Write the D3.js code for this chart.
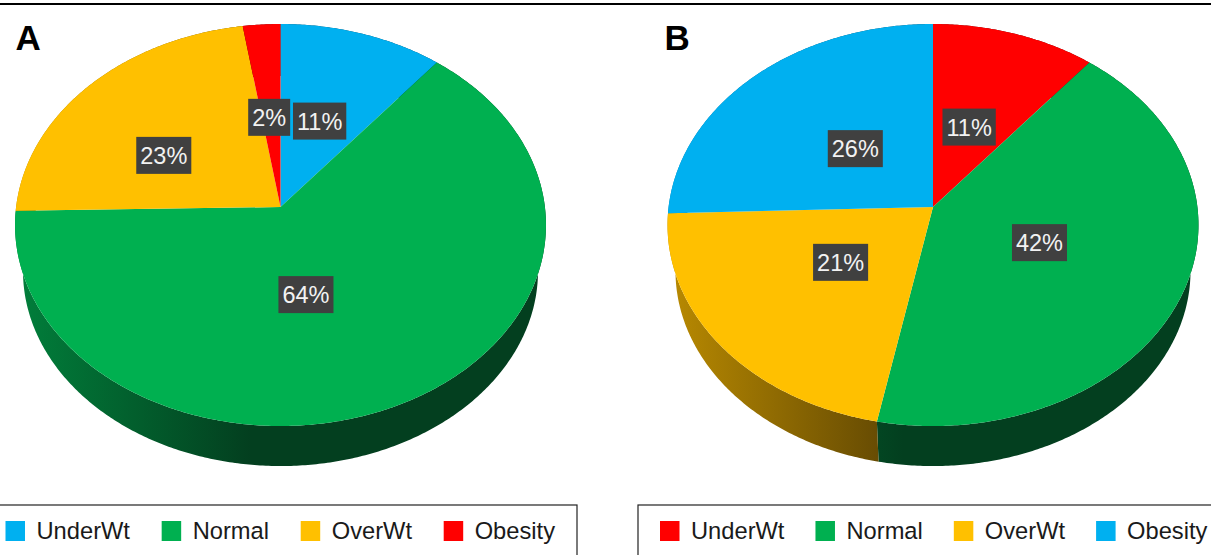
<!DOCTYPE html>
<html>
<head>
<meta charset="utf-8">
<script src="https://cdn.jsdelivr.net/npm/d3@7"></script>
<style>
  html, body { margin: 0; padding: 0; background: #fff; overflow: hidden; }
  svg { display: block; font-family: "Liberation Sans", Arial, sans-serif; }
</style>
</head>
<body>
<svg id="chart" width="1211" height="555"></svg>
<script>
// chart values
const categories = ['UnderWt', 'Normal', 'OverWt', 'Obesity'];
const valuesA = [10.9, 63.8, 22.81, 2.49];
const valuesB = [10.9, 42.2, 21.4, 25.5];
const colorsA = ['#00b0f0', '#00b050', '#ffc000', '#ff0000'];
const colorsB = ['#ff0000', '#00b050', '#ffc000', '#00b0f0'];

// label nudges away from the default slice position, [dx, dy]
const labelShiftA = [[-1, -1], [-31, 0], [-24, 7], [-2, 0]];
const labelShiftB = [[-4, 5], [-8, -5], [5, -7], [9, 5]];

// pie geometry
const persp = -0.0896;  // perspective of the tilted disc
const radiusX = 264.4, radiusY = 199.4;
const apexY = 207;
const wallScale = 0.97, wallApexY = 253.6;
const labelRadius = 0.47;

const svg = d3.select('#chart');
const defs = svg.append('defs');
const percent = d3.format('.0f');

// rule along the top
svg.append('rect')
  .attr('x', 0)
  .attr('y', 3)
  .attr('width', 1211)
  .attr('height', 2)
  .attr('fill', '#000');

// unit disc -> screen, angle clockwise from 12 o'clock
function project(cx, cy, scale, angle, r) {
  var x = r * Math.sin(angle),
    y = -r * Math.cos(angle),
    w = 1 + persp * y;
  return [cx + scale * radiusX * x / w, cy + scale * radiusY * y / w];
}

function rim(cx, cy, scale, a0, a1) {
  var steps = Math.max(2, Math.ceil((a1 - a0) / 0.01));
  return d3.range(steps + 1).map(function(i) {
    return project(cx, cy, scale, a0 + (a1 - a0) * i / steps, 1);
  });
}

function shade(color, k) {
  var c = d3.rgb(color);
  return d3.rgb(c.r * k + 4 * (1 - k), c.g * k, c.b * k + 4 * (1 - k)).formatHex();
}

function drawPie(id, cx, values, colors, shifts) {
  var line = d3.line();
  var arcs = d3.pie().sort(null).value(function(d) { return d; })(values);
  var g = svg.append('g').attr('class', 'pie-' + id);

  // side wall first, the top face hides the back of it
  arcs.forEach(function(d, i) {
    var gradId = 'wall-' + id + '-' + i;
    var grad = defs.append('linearGradient')
      .attr('id', gradId)
      .attr('gradientUnits', 'userSpaceOnUse')
      .attr('x1', cx - radiusX)
      .attr('x2', cx - 30)
      .attr('y1', 0)
      .attr('y2', 0);
    grad.append('stop').attr('offset', 0).attr('stop-color', shade(colors[i], 0.72));
    grad.append('stop').attr('offset', 1).attr('stop-color', shade(colors[i], 0.36));
    var top = rim(cx, apexY, 1, d.startAngle, d.endAngle),
      bottom = rim(cx, wallApexY, wallScale, d.startAngle, d.endAngle).reverse();
    g.append('path')
      .attr('d', line(top.concat(bottom)) + 'Z')
      .attr('fill', 'url(#' + gradId + ')');
  });

  // top face
  arcs.forEach(function(d, i) {
    var pts = [[cx, apexY]].concat(rim(cx, apexY, 1, d.startAngle, d.endAngle));
    g.append('path')
      .attr('d', line(pts) + 'Z')
      .attr('fill', colors[i]);
  });

  // value labels
  arcs.forEach(function(d, i) {
    var p = project(cx, apexY, 1, (d.startAngle + d.endAngle) / 2, labelRadius),
      lx = p[0] + shifts[i][0],
      ly = p[1] + shifts[i][1];
    var box = g.append('rect').attr('fill', '#404040');
    var text = g.append('text')
      .attr('x', lx)
      .attr('y', ly + 8.5)
      .attr('text-anchor', 'middle')
      .attr('font-size', 23.5)
      .attr('fill', '#f2f2f2')
      .text(percent(values[i]) + '%');
    var tw = text.node().getComputedTextLength();
    box.attr('x', lx - tw / 2 - 4)
      .attr('y', ly - 18.5)
      .attr('width', tw + 8)
      .attr('height', 37);
  });
}

function drawLegend(boxX, boxW, startX, gap, colors) {
  var g = svg.append('g').attr('class', 'legend');
  g.append('rect')
    .attr('x', boxX)
    .attr('y', 505)
    .attr('width', boxW)
    .attr('height', 70)
    .attr('fill', '#fff')
    .attr('stroke', '#222')
    .attr('stroke-width', 1.2);
  var x = startX;
  categories.forEach(function(name, i) {
    g.append('rect')
      .attr('x', x)
      .attr('y', 521)
      .attr('width', 19.5)
      .attr('height', 20)
      .attr('fill', colors[i]);
    var t = g.append('text')
      .attr('x', x + 31)
      .attr('y', 538.5)
      .attr('font-size', 23.7)
      .attr('fill', '#1a1a1a')
      .text(name);
    x += 31 + t.node().getComputedTextLength() + gap;
  });
}

drawPie('a', 280.5, valuesA, colorsA, labelShiftA);
drawPie('b', 933, valuesB, colorsB, labelShiftB);

svg.append('text').attr('x', 15.5).attr('y', 50).attr('font-size', 35).attr('font-weight', 'bold').attr('fill', '#000').text('A');
svg.append('text').attr('x', 664.5).attr('y', 50).attr('font-size', 35).attr('font-weight', 'bold').attr('fill', '#000').text('B');

drawLegend(-10, 587, 5.5, 31.7, colorsA);
drawLegend(638, 600, 660, 31, colorsB);
</script>
</body>
</html>
